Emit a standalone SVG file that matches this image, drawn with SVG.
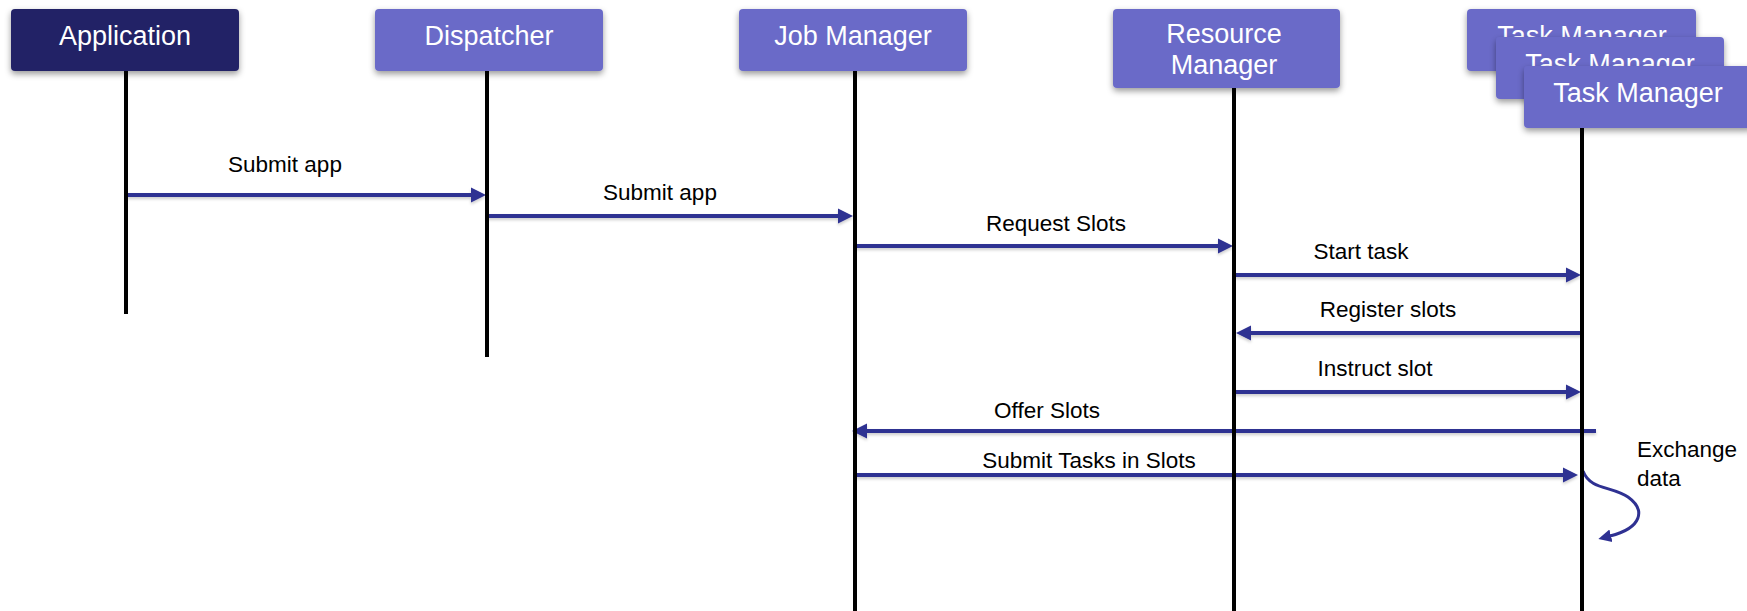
<svg xmlns="http://www.w3.org/2000/svg" width="1747" height="611" viewBox="0 0 1747 611">
  <style>
    .box { fill: #6a6bc8; filter: url(#shadow); }
    .box.dark { fill: #222266; }
    .title { font-family: "Liberation Sans", Arial, sans-serif; font-size: 27px; fill: #ffffff; text-anchor: middle; }
    .life { stroke: #000000; stroke-width: 4; }
    .msg { stroke: #2f3192; stroke-width: 4; fill: none; marker-end: url(#head); }
    .loop { stroke: #2f3192; stroke-width: 3; fill: none; marker-end: url(#headsmall); }
    .label { font-family: "Liberation Sans", Arial, sans-serif; font-size: 22.5px; fill: #000000; text-anchor: middle; }
    .label.left { text-anchor: start; }
  </style>
  <defs>
    <filter id="shadow" x="-10%" y="-20%" width="120%" height="160%">
      <feDropShadow dx="0" dy="3" stdDeviation="3" flood-color="#000000" flood-opacity="0.4"/>
    </filter>
    <filter id="lineshadow" filterUnits="userSpaceOnUse" x="0" y="0" width="1747" height="611">
      <feDropShadow dx="0" dy="2" stdDeviation="1.5" flood-color="#000000" flood-opacity="0.2"/>
    </filter>
    <marker id="head" markerUnits="userSpaceOnUse" markerWidth="16" markerHeight="16" refX="1" refY="8" orient="auto">
      <path d="M0,0.5 L15,8 L0,15.5 z" fill="#2f3192"/>
    </marker>
    <marker id="headsmall" markerUnits="userSpaceOnUse" markerWidth="14" markerHeight="14" refX="1" refY="7" orient="auto">
      <path d="M0,0.5 L13,7 L0,13.5 z" fill="#2f3192"/>
    </marker>
  </defs>

  <rect width="1747" height="611" fill="#ffffff"/>

  <!-- messages between participants -->
  <g id="connectors">
    <g filter="url(#lineshadow)">
      <line class="msg" x1="126" y1="195" x2="472" y2="195"/>
      <line class="msg" x1="487" y1="216" x2="839" y2="216"/>
      <line class="msg" x1="855" y1="246" x2="1219" y2="246"/>
      <line class="msg" x1="1234" y1="275" x2="1567" y2="275"/>
      <line class="msg" x1="1582" y1="333" x2="1250" y2="333"/>
      <line class="msg" x1="1234" y1="392" x2="1567" y2="392"/>
      <line class="msg" x1="1596" y1="431" x2="866" y2="431"/>
      <line class="msg" x1="855" y1="475" x2="1564" y2="475"/>
    </g>
    <path class="loop" d="M1583,471 C1590,490 1612,486 1628,497 C1646,510 1642,528 1610,536"/>

    <text class="label" x="285" y="172">Submit app</text>
    <text class="label" x="660" y="200">Submit app</text>
    <text class="label" x="1056" y="231">Request Slots</text>
    <text class="label" x="1361" y="259">Start task</text>
    <text class="label" x="1388" y="317">Register slots</text>
    <text class="label" x="1375" y="376">Instruct slot</text>
    <text class="label" x="1047" y="418">Offer Slots</text>
    <text class="label" x="1089" y="468">Submit Tasks in Slots</text>
    <text class="label left" x="1637" y="457">Exchange</text>
    <text class="label left" x="1637" y="486">data</text>
  </g>

  <g id="application">
    <line class="life" x1="126" y1="70" x2="126" y2="314"/>
    <rect class="box dark" x="11" y="9" width="228" height="62" rx="4"/>
    <text class="title" x="125" y="45">Application</text>
  </g>

  <g id="dispatcher">
    <line class="life" x1="487" y1="70" x2="487" y2="357"/>
    <rect class="box" x="375" y="9" width="228" height="62" rx="4"/>
    <text class="title" x="489" y="45">Dispatcher</text>
  </g>

  <g id="job-manager">
    <line class="life" x1="855" y1="70" x2="855" y2="611"/>
    <rect class="box" x="739" y="9" width="228" height="62" rx="4"/>
    <text class="title" x="853" y="45">Job Manager</text>
  </g>

  <g id="resource-manager">
    <line class="life" x1="1234" y1="86" x2="1234" y2="611"/>
    <rect class="box" x="1113" y="9" width="227" height="79" rx="4"/>
    <text class="title" x="1224" y="43">Resource</text>
    <text class="title" x="1224" y="74">Manager</text>
  </g>

  <g id="task-managers">
    <line class="life" x1="1582" y1="125" x2="1582" y2="611"/>
    <rect class="box" x="1467" y="9" width="229" height="62" rx="4"/>
    <text class="title" x="1582" y="45">Task Manager</text>
    <rect class="box" x="1496" y="37" width="228" height="62" rx="4"/>
    <text class="title" x="1610" y="73">Task Manager</text>
    <rect class="box" x="1524" y="66" width="229" height="62" rx="4"/>
    <text class="title" x="1638" y="102">Task Manager</text>
  </g>
</svg>
